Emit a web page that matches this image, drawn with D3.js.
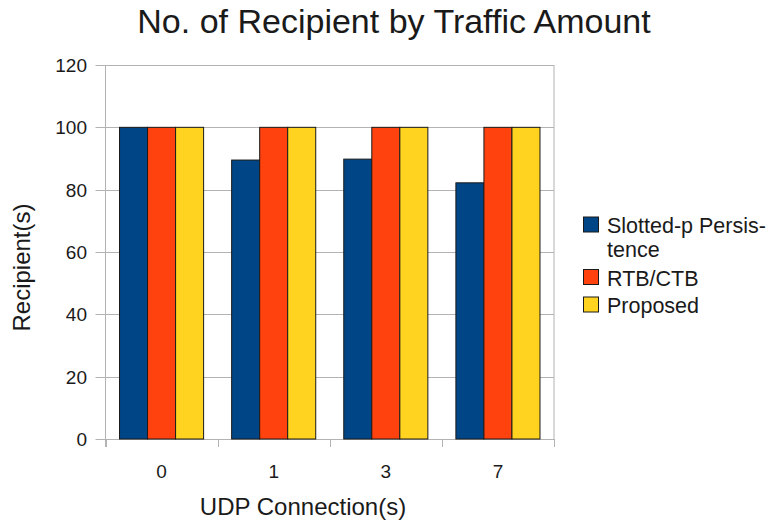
<!DOCTYPE html>
<html>
<head>
<meta charset="utf-8">
<script src="https://cdn.jsdelivr.net/npm/d3@7"></script>
<style>
  body { margin: 0; background: #fff; }
  text { font-family: "Liberation Sans", Arial, sans-serif; fill: #1a1a1a; }
</style>
</head>
<body>
<div id="chart"></div>
<script>
// data
const categories = ["0", "1", "3", "7"];
const seriesNames = ["Slotted-p Persistence", "RTB/CTB", "Proposed"];
const slotted = [100, 89.5, 89.8, 82.2];
const rtbctb = [100, 100, 100, 100];
const proposed = [100, 100, 100, 100];
const yTicks = [0, 20, 40, 60, 80, 100, 120];
const colors = ["#004586", "#ff420e", "#ffd320"];

const width = 769;
const height = 522;
const plot = { left: 105.5, right: 554, top: 65, bottom: 439 };

const svg = d3.select("#chart")
.append("svg")
  .attr("width", width)
  .attr("height", height);

const rows = categories.map((c, i) => ({
  cat: c,
  values: [slotted[i], rtbctb[i], proposed[i]]
}));

const x0 = d3.scaleBand()
  .domain(categories)
  .range([plot.left, plot.right])
  .padding(0);

const bw = x0.bandwidth();
const x1 = d3.scaleBand()
  .domain(d3.range(seriesNames.length))
  .range([bw * 0.125, bw * 0.875]);

const y = d3.scaleLinear()
  .domain([0, 120])
  .range([plot.bottom, plot.top]);

// grid lines
svg.append("g")
  .selectAll("line")
  .data(yTicks)
  .enter()
  .append("line")
  .attr("x1", plot.left - 10)
  .attr("x2", plot.right)
  .attr("y1", d => Math.round(y(d)) + 0.5)
  .attr("y2", d => Math.round(y(d)) + 0.5)
  .attr("stroke", "#b3b3b3")
  .attr("stroke-width", 1);

// right border
svg.append("line")
  .attr("x1", plot.right).attr("x2", plot.right)
  .attr("y1", plot.top).attr("y2", plot.bottom)
  .attr("stroke", "#b3b3b3");

// left axis line
svg.append("line")
  .attr("x1", plot.left).attr("x2", plot.left)
  .attr("y1", plot.top).attr("y2", plot.bottom + 8)
  .attr("stroke", "#b3b3b3");

// x ticks at band boundaries
const bounds = categories.map(c => x0(c)).concat([plot.right]);
svg.append("g")
  .selectAll("line")
  .data(bounds)
  .enter()
  .append("line")
  .attr("x1", d => Math.round(d) + 0.5)
  .attr("x2", d => Math.round(d) + 0.5)
  .attr("y1", plot.bottom)
  .attr("y2", plot.bottom + 8)
  .attr("stroke", "#b3b3b3");

// y tick labels
svg.append("g")
  .selectAll("text")
  .data(yTicks)
  .enter()
  .append("text")
  .attr("x", 87)
  .attr("y", d => y(d) + 7)
  .attr("text-anchor", "end")
  .attr("font-size", "19px")
  .text(d => d);

// x tick labels
svg.append("g")
  .selectAll("text")
  .data(categories)
  .enter()
  .append("text")
  .attr("x", d => x0(d) + bw / 2)
  .attr("y", 478)
  .attr("text-anchor", "middle")
  .attr("font-size", "19px")
  .text(d => d);

// bars
const groups = svg.selectAll("g.bar")
  .data(rows)
  .enter()
  .append("g")
  .attr("class", "bar")
  .attr("transform", d => `translate(${x0(d.cat)},0)`);

groups.selectAll("rect")
  .data(d => d.values)
  .enter()
  .append("rect")
  .attr("x", (d, i) => x1(i))
  .attr("y", d => y(d))
  .attr("width", x1.bandwidth())
  .attr("height", d => plot.bottom - y(d))
  .attr("fill", (d, i) => colors[i])
  .attr("stroke", "#1a1a1a")
  .attr("stroke-width", 1);

// titles
svg.append("text")
  .attr("x", 394)
  .attr("y", 33)
  .attr("text-anchor", "middle")
  .attr("font-size", "34px")
  .text("No. of Recipient by Traffic Amount");

svg.append("text")
  .attr("x", 303)
  .attr("y", 515)
  .attr("text-anchor", "middle")
  .attr("font-size", "24px")
  .text("UDP Connection(s)");

svg.append("text")
  .attr("transform", "translate(30,267.5) rotate(-90)")
  .attr("text-anchor", "middle")
  .attr("font-size", "24px")
  .text("Recipient(s)");

// legend
const legendRows = [
  { lines: ["Slotted-p Persis-", "tence"], y: 233 },
  { lines: ["RTB/CTB"], y: 285.5 },
  { lines: ["Proposed"], y: 313 }
];

const legend = svg.append("g");
legendRows.forEach((r, i) => {
  legend.append("rect")
    .attr("x", 583.5)
    .attr("y", r.y - 16)
    .attr("width", 15)
    .attr("height", 15)
    .attr("fill", colors[i])
    .attr("stroke", "#1a1a1a");
  r.lines.forEach((t, k) => {
    legend.append("text")
      .attr("x", 607)
      .attr("y", r.y + k * 24)
      .attr("font-size", "21.5px")
      .text(t);
  });
});
</script>
</body>
</html>
